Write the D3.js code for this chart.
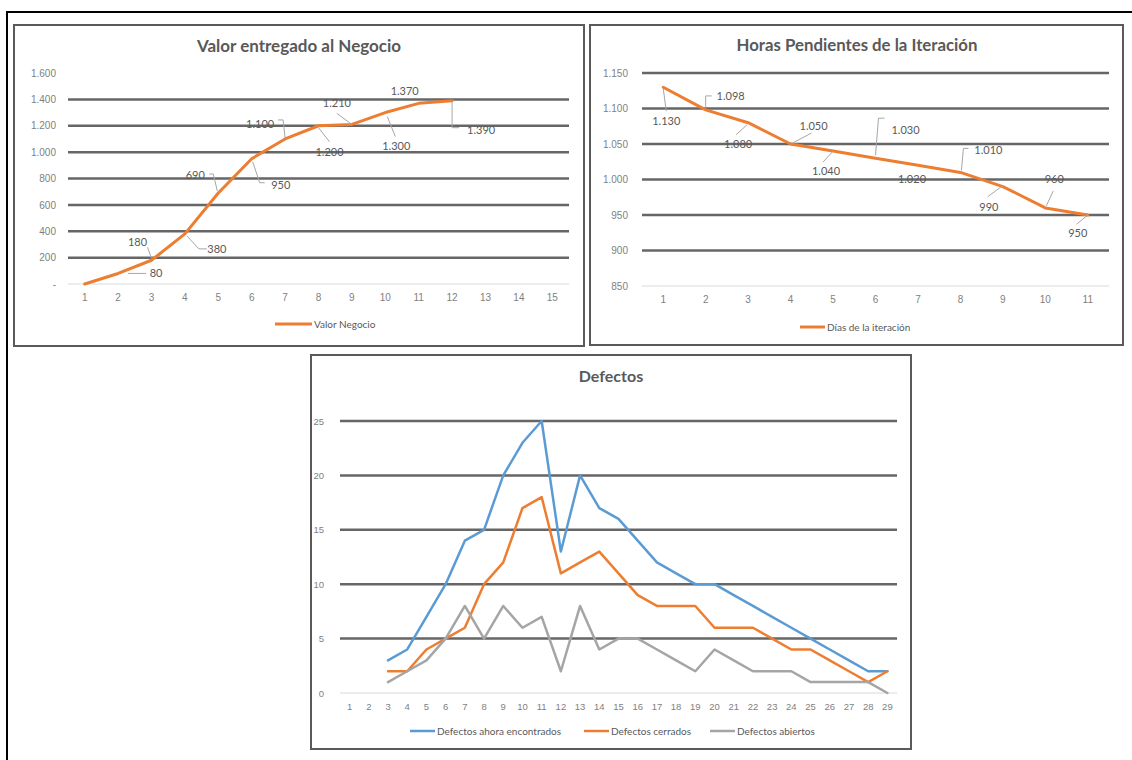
<!DOCTYPE html>
<html>
<head>
<meta charset="utf-8">
<script src="https://cdn.jsdelivr.net/npm/d3@7"></script>
<style>
body{margin:0;background:#fff}
svg{display:block;font-family:Lato,"Open Sans",sans-serif}
</style>
</head>
<body>
<svg id="chart" width="1132" height="760"></svg>
<script>
// Valor entregado al Negocio
var valorDias = ['1','2','3','4','5','6','7','8','9','10','11','12','13','14','15']
var valorNegocio = [0,80,180,380,690,950,1100,1200,1210,1300,1370,1390]
var valorTicks = [0,200,400,600,800,1000,1200,1400,1600]

// Horas Pendientes de la Iteración
var horasDias = ['1','2','3','4','5','6','7','8','9','10','11']
var horasPendientes = [1130,1098,1080,1050,1040,1030,1020,1010,990,960,950]
var horasTicks = [850,900,950,1000,1050,1100,1150]

// Defectos
var defectosDias = ['1','2','3','4','5','6','7','8','9','10','11','12','13','14','15','16','17','18','19','20','21','22','23','24','25','26','27','28','29']
var defectosEncontrados = [null,null,3,4,7,10,14,15,20,23,25,13,20,17,16,14,12,11,10,10,9,8,7,6,5,4,3,2,2]
var defectosCerrados = [null,null,2,2,4,5,6,10,12,17,18,11,12,13,11,9,8,8,8,6,6,6,5,4,4,3,2,1,2]
var defectosAbiertos = [null,null,1,2,3,5,8,5,8,6,7,2,8,4,5,5,4,3,2,4,3,2,2,2,1,1,1,1,0]
var defectosTicks = [0,5,10,15,20,25]

// where the data labels sit (offset from the point) and their leader lines
var valorLabelPos = [
  null,
  {dx:38,dy:0,lead:[[10,0],[28,0]]},
  {dx:-14,dy:-18,lead:[[-4,-13],[0,-2]]},
  {dx:32,dy:15,lead:[[2,2],[14,15],[22,15]]},
  {dx:-23,dy:-18,lead:[[-9,-19],[-5,-19],[-1,-2]]},
  {dx:29,dy:26,lead:[[1,3],[8,24],[13,24]]},
  {dx:-25,dy:-15,lead:[[-7,-19],[-2,-19],[0,-1]]},
  {dx:11,dy:26,lead:[[0,2],[11,16]]},
  {dx:-15,dy:-21,lead:[[-15,-11],[0,0]]},
  {dx:11,dy:34,lead:[[2,4],[10,24]]},
  {dx:-14,dy:-12,lead:null},
  {dx:29,dy:29,lead:[[0,1],[0,27],[7,27]]}
]
var horasLabelPos = [
  {dx:3,dy:34,lead:[[0,1],[3,24]]},
  {dx:25,dy:-14,lead:[[0,-3],[0,-14],[6,-14]]},
  {dx:-10,dy:21,lead:[[-12,12],[-1,2]]},
  {dx:23,dy:-18,lead:[[2,-1],[21,-11]]},
  {dx:-7,dy:20,lead:[[-10,11],[0,0]]},
  {dx:30,dy:-28,lead:[[0,-3],[3,-40],[9,-40]]},
  {dx:-6,dy:14,lead:null},
  {dx:28,dy:-22,lead:[[1,-2],[3,-24],[8,-24]]},
  {dx:-14,dy:21,lead:[[-15,10],[0,-1]]},
  {dx:9,dy:-29,lead:[[1,-2],[8,-17]]},
  {dx:-10,dy:18,lead:[[-11,9],[0,0]]}
]

var es = d3.formatLocale({decimal:',',thousands:'.',grouping:[3],currency:['','']})
var fmt = es.format(',')

var svg = d3.select('#chart')
var gridColor = '#666'
var tickColor = '#7f7f7f'
var textColor = '#595959'
var orange = '#ED7D31', blue = '#5B9BD5', gray = '#A5A5A5'

// outer frame
svg.append('path').attr('d','M7,760 L7,12 L1132,12').attr('fill','none').attr('stroke','#000').attr('stroke-width',2)

function drawPanel(cfg){
  var g = svg.append('g')
  g.append('rect').attr('x',cfg.box[0]).attr('y',cfg.box[1])
    .attr('width',cfg.box[2]-cfg.box[0]).attr('height',cfg.box[3]-cfg.box[1])
    .attr('fill','#fff').attr('stroke','#5a5a5a').attr('stroke-width',2)

  g.append('text').attr('x',cfg.titleX).attr('y',cfg.titleY)
    .attr('text-anchor','middle').attr('font-weight','bold').attr('font-size',cfg.titleSize)
    .attr('fill',textColor).text(cfg.title)

  var x = d3.scaleBand().domain(cfg.cats).range(cfg.xr).padding(0)
  var y = d3.scaleLinear().domain(cfg.yd).range(cfg.yr)
  var cx = function(i){ return x(cfg.cats[i]) + x.bandwidth()/2 }

  // gridlines
  g.selectAll('.grid').data(cfg.grid).enter().append('line')
    .attr('x1',cfg.xr[0]).attr('x2',cfg.xr[1])
    .attr('y1',function(d){return y(d)}).attr('y2',function(d){return y(d)})
    .attr('stroke',gridColor).attr('stroke-width',2.5)
  g.append('line').attr('x1',cfg.xr[0]).attr('x2',cfg.xr[1])
    .attr('y1',y(cfg.yd[0])).attr('y2',y(cfg.yd[0]))
    .attr('stroke','#d9d9d9').attr('stroke-width',1)

  var ya = g.append('g').attr('transform','translate('+cfg.xr[0]+',0)')
    .call(d3.axisLeft(y).tickValues(cfg.ticks).tickSize(0).tickPadding(cfg.yPad).tickFormat(cfg.tickFmt))
  ya.select('.domain').remove()
  ya.selectAll('text').attr('fill',tickColor).attr('font-size',cfg.tickSize).attr('font-family',null)

  var xa = g.append('g').attr('transform','translate(0,'+cfg.yr[0]+')')
    .call(d3.axisBottom(x).tickSize(0).tickPadding(cfg.xPad))
  xa.select('.domain').remove()
  xa.selectAll('text').attr('fill',tickColor).attr('font-size',cfg.tickSize).attr('font-family',null)

  cfg.series.forEach(function(s){
    var line = d3.line()
      .defined(function(d){return d != null})
      .x(function(d,i){return cx(i)})
      .y(function(d){return y(d)})
    g.append('path').datum(s.values).attr('d',line)
      .attr('fill','none').attr('stroke',s.color).attr('stroke-width',cfg.lineW)
      .attr('stroke-linejoin','round').attr('stroke-linecap','round')

    if (s.labels){
      s.values.forEach(function(v,i){
        var p = s.labels[i]
        if (!p) return
        var px = cx(i), py = y(v)
        if (p.lead){
          g.append('path')
            .attr('d',d3.line()(p.lead.map(function(o){return [px+o[0],py+o[1]]})))
            .attr('fill','none').attr('stroke','#a6a6a6').attr('stroke-width',1)
        }
        g.append('text').attr('x',px+p.dx).attr('y',py+p.dy).attr('dy','0.35em')
          .attr('text-anchor','middle').attr('font-size',11).attr('fill',textColor)
          .text(fmt(v))
      })
    }
  })

  cfg.legend.forEach(function(l){
    g.append('line').attr('x1',l.x1).attr('x2',l.x2).attr('y1',cfg.legendY).attr('y2',cfg.legendY)
      .attr('stroke',l.color).attr('stroke-width',cfg.lineW)
    g.append('text').attr('x',l.x2+2).attr('y',cfg.legendY).attr('dy','0.35em')
      .attr('font-size',10).attr('fill',textColor).text(l.name)
  })
}

drawPanel({
  box:[14,25,584,346], title:'Valor entregado al Negocio', titleX:299, titleY:52, titleSize:17,
  cats:valorDias, xr:[68,569], yd:[0,1600], yr:[284,73],
  ticks:valorTicks, grid:valorTicks.slice(1,-1),
  tickFmt:function(d){return d == 0 ? '-' : fmt(d)},
  tickSize:10, yPad:12, xPad:10, lineW:3,
  series:[{values:valorNegocio,color:orange,labels:valorLabelPos}],
  legendY:324, legend:[{x1:275,x2:312,color:orange,name:'Valor Negocio'}]
})

drawPanel({
  box:[590,25,1123,345], title:'Horas Pendientes de la Iteración', titleX:857, titleY:51, titleSize:16.8,
  cats:horasDias, xr:[642,1109], yd:[850,1150], yr:[286,73],
  ticks:horasTicks, grid:horasTicks.slice(1),
  tickFmt:fmt, tickSize:10, yPad:14, xPad:10, lineW:3,
  series:[{values:horasPendientes,color:orange,labels:horasLabelPos}],
  legendY:327, legend:[{x1:800,x2:825,color:orange,name:'Días de la iteración'}]
})

drawPanel({
  box:[311,355,911,749], title:'Defectos', titleX:611, titleY:382, titleSize:16,
  cats:defectosDias, xr:[340,897], yd:[0,25], yr:[693,421],
  ticks:defectosTicks, grid:defectosTicks.slice(1),
  tickFmt:fmt, tickSize:9.5, yPad:16, xPad:10, lineW:2.5,
  series:[
    {values:defectosEncontrados,color:blue},
    {values:defectosCerrados,color:orange},
    {values:defectosAbiertos,color:gray}
  ],
  legendY:731, legend:[
    {x1:410,x2:435,color:blue,name:'Defectos ahora encontrados'},
    {x1:584,x2:609,color:orange,name:'Defectos cerrados'},
    {x1:710,x2:735,color:gray,name:'Defectos abiertos'}
  ]
})
</script>
</body>
</html>
